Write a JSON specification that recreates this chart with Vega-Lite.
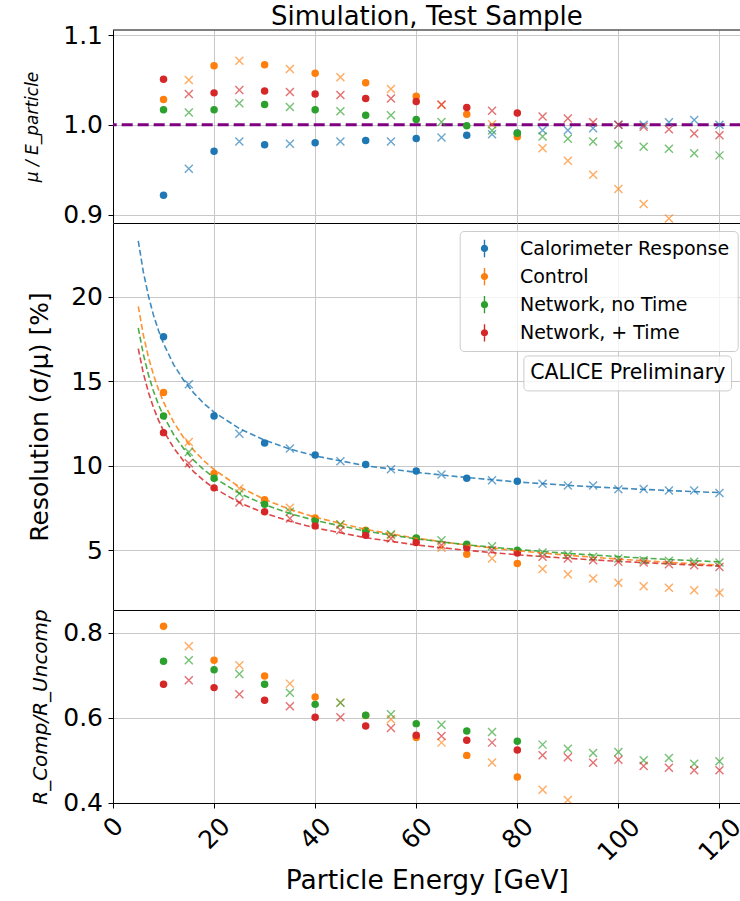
{
  "$schema": "https://vega.github.io/schema/vega-lite/v6.json",
  "padding": {"left": 24, "top": 4, "right": 0, "bottom": 0},
  "background": "white",
  "bounds": "flush",
  "spacing": 0,
  "config": {
    "font": "DejaVu Sans",
    "view": {"stroke": null},
    "axis": {
      "grid": true, "gridColor": "#c8c8c8", "gridWidth": 1,
      "domainColor": "#000", "domainWidth": 1, "tickColor": "#000", "tickSize": 5, "tickWidth": 1,
      "labelFontSize": 25, "labelColor": "#000", "labelFont": "DejaVu Sans",
      "titleFontSize": 26, "titleFontWeight": "normal", "titleColor": "#000", "titleFont": "DejaVu Sans"
    }
  },
  "resolve": {"scale": {"color": "independent"}, "legend": {"color": "independent"}},
  "datasets": {
    "pts": [
      {"p":"ratio","s":"Calorimeter Response","k":"dot","E":10,"v":0.9215},
      {"p":"ratio","s":"Calorimeter Response","k":"cross","E":15,"v":0.951},
      {"p":"ratio","s":"Calorimeter Response","k":"dot","E":20,"v":0.9707},
      {"p":"ratio","s":"Calorimeter Response","k":"cross","E":25,"v":0.9815},
      {"p":"ratio","s":"Calorimeter Response","k":"dot","E":30,"v":0.9778},
      {"p":"ratio","s":"Calorimeter Response","k":"cross","E":35,"v":0.979},
      {"p":"ratio","s":"Calorimeter Response","k":"dot","E":40,"v":0.980},
      {"p":"ratio","s":"Calorimeter Response","k":"cross","E":45,"v":0.9815},
      {"p":"ratio","s":"Calorimeter Response","k":"dot","E":50,"v":0.9826},
      {"p":"ratio","s":"Calorimeter Response","k":"cross","E":55,"v":0.9815},
      {"p":"ratio","s":"Calorimeter Response","k":"dot","E":60,"v":0.9848},
      {"p":"ratio","s":"Calorimeter Response","k":"cross","E":65,"v":0.986},
      {"p":"ratio","s":"Calorimeter Response","k":"dot","E":70,"v":0.9885},
      {"p":"ratio","s":"Calorimeter Response","k":"cross","E":75,"v":0.9896},
      {"p":"ratio","s":"Calorimeter Response","k":"dot","E":80,"v":0.991},
      {"p":"ratio","s":"Calorimeter Response","k":"cross","E":85,"v":0.994},
      {"p":"ratio","s":"Calorimeter Response","k":"cross","E":90,"v":0.994},
      {"p":"ratio","s":"Calorimeter Response","k":"cross","E":95,"v":0.9963},
      {"p":"ratio","s":"Calorimeter Response","k":"cross","E":100,"v":1.0},
      {"p":"ratio","s":"Calorimeter Response","k":"cross","E":105,"v":1.0},
      {"p":"ratio","s":"Calorimeter Response","k":"cross","E":110,"v":1.003},
      {"p":"ratio","s":"Calorimeter Response","k":"cross","E":115,"v":1.0055},
      {"p":"ratio","s":"Calorimeter Response","k":"cross","E":120,"v":1.0},
      {"p":"ratio","s":"Control","k":"dot","E":10,"v":1.0281},
      {"p":"ratio","s":"Control","k":"cross","E":15,"v":1.050},
      {"p":"ratio","s":"Control","k":"dot","E":20,"v":1.0659},
      {"p":"ratio","s":"Control","k":"cross","E":25,"v":1.0715},
      {"p":"ratio","s":"Control","k":"dot","E":30,"v":1.067},
      {"p":"ratio","s":"Control","k":"cross","E":35,"v":1.0622},
      {"p":"ratio","s":"Control","k":"dot","E":40,"v":1.0574},
      {"p":"ratio","s":"Control","k":"cross","E":45,"v":1.053},
      {"p":"ratio","s":"Control","k":"dot","E":50,"v":1.047},
      {"p":"ratio","s":"Control","k":"cross","E":55,"v":1.040},
      {"p":"ratio","s":"Control","k":"dot","E":60,"v":1.0319},
      {"p":"ratio","s":"Control","k":"cross","E":65,"v":1.022},
      {"p":"ratio","s":"Control","k":"dot","E":70,"v":1.0119},
      {"p":"ratio","s":"Control","k":"cross","E":75,"v":1.0007},
      {"p":"ratio","s":"Control","k":"dot","E":80,"v":0.9867},
      {"p":"ratio","s":"Control","k":"cross","E":85,"v":0.974},
      {"p":"ratio","s":"Control","k":"cross","E":90,"v":0.960},
      {"p":"ratio","s":"Control","k":"cross","E":95,"v":0.9444},
      {"p":"ratio","s":"Control","k":"cross","E":100,"v":0.9285},
      {"p":"ratio","s":"Control","k":"cross","E":105,"v":0.9119},
      {"p":"ratio","s":"Control","k":"cross","E":110,"v":0.8956},
      {"p":"ratio","s":"Control","k":"cross","E":115,"v":0.879},
      {"p":"ratio","s":"Control","k":"cross","E":120,"v":0.862},
      {"p":"ratio","s":"Network, no Time","k":"dot","E":10,"v":1.0167},
      {"p":"ratio","s":"Network, no Time","k":"cross","E":15,"v":1.0137},
      {"p":"ratio","s":"Network, no Time","k":"dot","E":20,"v":1.0167},
      {"p":"ratio","s":"Network, no Time","k":"cross","E":25,"v":1.024},
      {"p":"ratio","s":"Network, no Time","k":"dot","E":30,"v":1.0226},
      {"p":"ratio","s":"Network, no Time","k":"cross","E":35,"v":1.020},
      {"p":"ratio","s":"Network, no Time","k":"dot","E":40,"v":1.0167},
      {"p":"ratio","s":"Network, no Time","k":"cross","E":45,"v":1.0152},
      {"p":"ratio","s":"Network, no Time","k":"dot","E":50,"v":1.0107},
      {"p":"ratio","s":"Network, no Time","k":"cross","E":55,"v":1.0107},
      {"p":"ratio","s":"Network, no Time","k":"dot","E":60,"v":1.0059},
      {"p":"ratio","s":"Network, no Time","k":"cross","E":65,"v":1.0033},
      {"p":"ratio","s":"Network, no Time","k":"dot","E":70,"v":0.9989},
      {"p":"ratio","s":"Network, no Time","k":"cross","E":75,"v":0.9937},
      {"p":"ratio","s":"Network, no Time","k":"dot","E":80,"v":0.9907},
      {"p":"ratio","s":"Network, no Time","k":"cross","E":85,"v":0.987},
      {"p":"ratio","s":"Network, no Time","k":"cross","E":90,"v":0.9844},
      {"p":"ratio","s":"Network, no Time","k":"cross","E":95,"v":0.9815},
      {"p":"ratio","s":"Network, no Time","k":"cross","E":100,"v":0.9778},
      {"p":"ratio","s":"Network, no Time","k":"cross","E":105,"v":0.9756},
      {"p":"ratio","s":"Network, no Time","k":"cross","E":110,"v":0.9733},
      {"p":"ratio","s":"Network, no Time","k":"cross","E":115,"v":0.9685},
      {"p":"ratio","s":"Network, no Time","k":"cross","E":120,"v":0.966},
      {"p":"ratio","s":"Network, + Time","k":"dot","E":10,"v":1.0507},
      {"p":"ratio","s":"Network, + Time","k":"cross","E":15,"v":1.0344},
      {"p":"ratio","s":"Network, + Time","k":"dot","E":20,"v":1.0356},
      {"p":"ratio","s":"Network, + Time","k":"cross","E":25,"v":1.0389},
      {"p":"ratio","s":"Network, + Time","k":"dot","E":30,"v":1.0378},
      {"p":"ratio","s":"Network, + Time","k":"cross","E":35,"v":1.0367},
      {"p":"ratio","s":"Network, + Time","k":"dot","E":40,"v":1.0344},
      {"p":"ratio","s":"Network, + Time","k":"cross","E":45,"v":1.0333},
      {"p":"ratio","s":"Network, + Time","k":"dot","E":50,"v":1.0293},
      {"p":"ratio","s":"Network, + Time","k":"cross","E":55,"v":1.0293},
      {"p":"ratio","s":"Network, + Time","k":"dot","E":60,"v":1.0259},
      {"p":"ratio","s":"Network, + Time","k":"cross","E":65,"v":1.0226},
      {"p":"ratio","s":"Network, + Time","k":"dot","E":70,"v":1.0193},
      {"p":"ratio","s":"Network, + Time","k":"cross","E":75,"v":1.0156},
      {"p":"ratio","s":"Network, + Time","k":"dot","E":80,"v":1.0133},
      {"p":"ratio","s":"Network, + Time","k":"cross","E":85,"v":1.0093},
      {"p":"ratio","s":"Network, + Time","k":"cross","E":90,"v":1.007},
      {"p":"ratio","s":"Network, + Time","k":"cross","E":95,"v":1.003},
      {"p":"ratio","s":"Network, + Time","k":"cross","E":100,"v":1.0},
      {"p":"ratio","s":"Network, + Time","k":"cross","E":105,"v":0.9978},
      {"p":"ratio","s":"Network, + Time","k":"cross","E":110,"v":0.9952},
      {"p":"ratio","s":"Network, + Time","k":"cross","E":115,"v":0.9904},
      {"p":"ratio","s":"Network, + Time","k":"cross","E":120,"v":0.9883},

      {"p":"res","s":"Calorimeter Response","k":"dot","E":10,"v":17.63},
      {"p":"res","s":"Calorimeter Response","k":"cross","E":15,"v":14.81},
      {"p":"res","s":"Calorimeter Response","k":"dot","E":20,"v":12.94},
      {"p":"res","s":"Calorimeter Response","k":"cross","E":25,"v":11.89},
      {"p":"res","s":"Calorimeter Response","k":"dot","E":30,"v":11.34},
      {"p":"res","s":"Calorimeter Response","k":"cross","E":35,"v":11.01},
      {"p":"res","s":"Calorimeter Response","k":"dot","E":40,"v":10.63},
      {"p":"res","s":"Calorimeter Response","k":"cross","E":45,"v":10.26},
      {"p":"res","s":"Calorimeter Response","k":"dot","E":50,"v":10.06},
      {"p":"res","s":"Calorimeter Response","k":"cross","E":55,"v":9.78},
      {"p":"res","s":"Calorimeter Response","k":"dot","E":60,"v":9.68},
      {"p":"res","s":"Calorimeter Response","k":"cross","E":65,"v":9.47},
      {"p":"res","s":"Calorimeter Response","k":"dot","E":70,"v":9.25},
      {"p":"res","s":"Calorimeter Response","k":"cross","E":75,"v":9.13},
      {"p":"res","s":"Calorimeter Response","k":"dot","E":80,"v":9.07},
      {"p":"res","s":"Calorimeter Response","k":"cross","E":85,"v":8.92},
      {"p":"res","s":"Calorimeter Response","k":"cross","E":90,"v":8.82},
      {"p":"res","s":"Calorimeter Response","k":"cross","E":95,"v":8.82},
      {"p":"res","s":"Calorimeter Response","k":"cross","E":100,"v":8.60},
      {"p":"res","s":"Calorimeter Response","k":"cross","E":105,"v":8.62},
      {"p":"res","s":"Calorimeter Response","k":"cross","E":110,"v":8.52},
      {"p":"res","s":"Calorimeter Response","k":"cross","E":115,"v":8.52},
      {"p":"res","s":"Calorimeter Response","k":"cross","E":120,"v":8.38},
      {"p":"res","s":"Control","k":"dot","E":10,"v":14.32},
      {"p":"res","s":"Control","k":"cross","E":15,"v":11.40},
      {"p":"res","s":"Control","k":"dot","E":20,"v":9.53},
      {"p":"res","s":"Control","k":"cross","E":25,"v":8.64},
      {"p":"res","s":"Control","k":"dot","E":30,"v":7.97},
      {"p":"res","s":"Control","k":"cross","E":35,"v":7.51},
      {"p":"res","s":"Control","k":"dot","E":40,"v":6.90},
      {"p":"res","s":"Control","k":"cross","E":45,"v":6.51},
      {"p":"res","s":"Control","k":"dot","E":50,"v":6.17},
      {"p":"res","s":"Control","k":"cross","E":55,"v":5.88},
      {"p":"res","s":"Control","k":"dot","E":60,"v":5.68},
      {"p":"res","s":"Control","k":"cross","E":65,"v":5.13},
      {"p":"res","s":"Control","k":"dot","E":70,"v":4.75},
      {"p":"res","s":"Control","k":"cross","E":75,"v":4.50},
      {"p":"res","s":"Control","k":"dot","E":80,"v":4.20},
      {"p":"res","s":"Control","k":"cross","E":85,"v":3.87},
      {"p":"res","s":"Control","k":"cross","E":90,"v":3.57},
      {"p":"res","s":"Control","k":"cross","E":95,"v":3.31},
      {"p":"res","s":"Control","k":"cross","E":100,"v":3.06},
      {"p":"res","s":"Control","k":"cross","E":105,"v":2.86},
      {"p":"res","s":"Control","k":"cross","E":110,"v":2.76},
      {"p":"res","s":"Control","k":"cross","E":115,"v":2.62},
      {"p":"res","s":"Control","k":"cross","E":120,"v":2.47},
      {"p":"res","s":"Network, no Time","k":"dot","E":10,"v":12.94},
      {"p":"res","s":"Network, no Time","k":"cross","E":15,"v":10.81},
      {"p":"res","s":"Network, no Time","k":"dot","E":20,"v":9.25},
      {"p":"res","s":"Network, no Time","k":"cross","E":25,"v":8.34},
      {"p":"res","s":"Network, no Time","k":"dot","E":30,"v":7.71},
      {"p":"res","s":"Network, no Time","k":"cross","E":35,"v":7.26},
      {"p":"res","s":"Network, no Time","k":"dot","E":40,"v":6.73},
      {"p":"res","s":"Network, no Time","k":"cross","E":45,"v":6.51},
      {"p":"res","s":"Network, no Time","k":"dot","E":50,"v":6.13},
      {"p":"res","s":"Network, no Time","k":"cross","E":55,"v":5.94},
      {"p":"res","s":"Network, no Time","k":"dot","E":60,"v":5.72},
      {"p":"res","s":"Network, no Time","k":"cross","E":65,"v":5.58},
      {"p":"res","s":"Network, no Time","k":"dot","E":70,"v":5.35},
      {"p":"res","s":"Network, no Time","k":"cross","E":75,"v":5.23},
      {"p":"res","s":"Network, no Time","k":"dot","E":80,"v":4.99},
      {"p":"res","s":"Network, no Time","k":"cross","E":85,"v":4.85},
      {"p":"res","s":"Network, no Time","k":"cross","E":90,"v":4.73},
      {"p":"res","s":"Network, no Time","k":"cross","E":95,"v":4.60},
      {"p":"res","s":"Network, no Time","k":"cross","E":100,"v":4.50},
      {"p":"res","s":"Network, no Time","k":"cross","E":105,"v":4.40},
      {"p":"res","s":"Network, no Time","k":"cross","E":110,"v":4.36},
      {"p":"res","s":"Network, no Time","k":"cross","E":115,"v":4.30},
      {"p":"res","s":"Network, no Time","k":"cross","E":120,"v":4.26},
      {"p":"res","s":"Network, + Time","k":"dot","E":10,"v":11.95},
      {"p":"res","s":"Network, + Time","k":"cross","E":15,"v":10.14},
      {"p":"res","s":"Network, + Time","k":"dot","E":20,"v":8.68},
      {"p":"res","s":"Network, + Time","k":"cross","E":25,"v":7.81},
      {"p":"res","s":"Network, + Time","k":"dot","E":30,"v":7.26},
      {"p":"res","s":"Network, + Time","k":"cross","E":35,"v":6.86},
      {"p":"res","s":"Network, + Time","k":"dot","E":40,"v":6.43},
      {"p":"res","s":"Network, + Time","k":"cross","E":45,"v":6.17},
      {"p":"res","s":"Network, + Time","k":"dot","E":50,"v":5.88},
      {"p":"res","s":"Network, + Time","k":"cross","E":55,"v":5.68},
      {"p":"res","s":"Network, + Time","k":"dot","E":60,"v":5.44},
      {"p":"res","s":"Network, + Time","k":"cross","E":65,"v":5.29},
      {"p":"res","s":"Network, + Time","k":"dot","E":70,"v":5.15},
      {"p":"res","s":"Network, + Time","k":"cross","E":75,"v":4.99},
      {"p":"res","s":"Network, + Time","k":"dot","E":80,"v":4.83},
      {"p":"res","s":"Network, + Time","k":"cross","E":85,"v":4.60},
      {"p":"res","s":"Network, + Time","k":"cross","E":90,"v":4.50},
      {"p":"res","s":"Network, + Time","k":"cross","E":95,"v":4.40},
      {"p":"res","s":"Network, + Time","k":"cross","E":100,"v":4.30},
      {"p":"res","s":"Network, + Time","k":"cross","E":105,"v":4.26},
      {"p":"res","s":"Network, + Time","k":"cross","E":110,"v":4.16},
      {"p":"res","s":"Network, + Time","k":"cross","E":115,"v":4.10},
      {"p":"res","s":"Network, + Time","k":"cross","E":120,"v":4.00},

      {"p":"rel","s":"Control","k":"dot","E":10,"v":0.8157},
      {"p":"rel","s":"Control","k":"cross","E":15,"v":0.7686},
      {"p":"rel","s":"Control","k":"dot","E":20,"v":0.7357},
      {"p":"rel","s":"Control","k":"cross","E":25,"v":0.7239},
      {"p":"rel","s":"Control","k":"dot","E":30,"v":0.6988},
      {"p":"rel","s":"Control","k":"cross","E":35,"v":0.6808},
      {"p":"rel","s":"Control","k":"dot","E":40,"v":0.6494},
      {"p":"rel","s":"Control","k":"cross","E":45,"v":0.6361},
      {"p":"rel","s":"Control","k":"dot","E":50,"v":0.606},
      {"p":"rel","s":"Control","k":"cross","E":55,"v":0.597},
      {"p":"rel","s":"Control","k":"dot","E":60,"v":0.554},
      {"p":"rel","s":"Control","k":"cross","E":65,"v":0.542},
      {"p":"rel","s":"Control","k":"dot","E":70,"v":0.512},
      {"p":"rel","s":"Control","k":"cross","E":75,"v":0.495},
      {"p":"rel","s":"Control","k":"dot","E":80,"v":0.461},
      {"p":"rel","s":"Control","k":"cross","E":85,"v":0.431},
      {"p":"rel","s":"Control","k":"cross","E":90,"v":0.407},
      {"p":"rel","s":"Network, no Time","k":"dot","E":10,"v":0.7333},
      {"p":"rel","s":"Network, no Time","k":"cross","E":15,"v":0.7357},
      {"p":"rel","s":"Network, no Time","k":"dot","E":20,"v":0.7137},
      {"p":"rel","s":"Network, no Time","k":"cross","E":25,"v":0.7035},
      {"p":"rel","s":"Network, no Time","k":"dot","E":30,"v":0.6792},
      {"p":"rel","s":"Network, no Time","k":"cross","E":35,"v":0.6596},
      {"p":"rel","s":"Network, no Time","k":"dot","E":40,"v":0.632},
      {"p":"rel","s":"Network, no Time","k":"cross","E":45,"v":0.636},
      {"p":"rel","s":"Network, no Time","k":"dot","E":50,"v":0.6063},
      {"p":"rel","s":"Network, no Time","k":"cross","E":55,"v":0.609},
      {"p":"rel","s":"Network, no Time","k":"dot","E":60,"v":0.5867},
      {"p":"rel","s":"Network, no Time","k":"cross","E":65,"v":0.5843},
      {"p":"rel","s":"Network, no Time","k":"dot","E":70,"v":0.5694},
      {"p":"rel","s":"Network, no Time","k":"cross","E":75,"v":0.567},
      {"p":"rel","s":"Network, no Time","k":"dot","E":80,"v":0.5451},
      {"p":"rel","s":"Network, no Time","k":"cross","E":85,"v":0.5373},
      {"p":"rel","s":"Network, no Time","k":"cross","E":90,"v":0.5278},
      {"p":"rel","s":"Network, no Time","k":"cross","E":95,"v":0.5176},
      {"p":"rel","s":"Network, no Time","k":"cross","E":100,"v":0.520},
      {"p":"rel","s":"Network, no Time","k":"cross","E":105,"v":0.5004},
      {"p":"rel","s":"Network, no Time","k":"cross","E":110,"v":0.5059},
      {"p":"rel","s":"Network, no Time","k":"cross","E":115,"v":0.4925},
      {"p":"rel","s":"Network, no Time","k":"cross","E":120,"v":0.498},
      {"p":"rel","s":"Network, + Time","k":"dot","E":10,"v":0.6792},
      {"p":"rel","s":"Network, + Time","k":"cross","E":15,"v":0.6886},
      {"p":"rel","s":"Network, + Time","k":"dot","E":20,"v":0.6714},
      {"p":"rel","s":"Network, + Time","k":"cross","E":25,"v":0.6557},
      {"p":"rel","s":"Network, + Time","k":"dot","E":30,"v":0.6416},
      {"p":"rel","s":"Network, + Time","k":"cross","E":35,"v":0.6275},
      {"p":"rel","s":"Network, + Time","k":"dot","E":40,"v":0.6016},
      {"p":"rel","s":"Network, + Time","k":"cross","E":45,"v":0.6016},
      {"p":"rel","s":"Network, + Time","k":"dot","E":50,"v":0.5812},
      {"p":"rel","s":"Network, + Time","k":"cross","E":55,"v":0.5765},
      {"p":"rel","s":"Network, + Time","k":"dot","E":60,"v":0.5592},
      {"p":"rel","s":"Network, + Time","k":"cross","E":65,"v":0.5576},
      {"p":"rel","s":"Network, + Time","k":"dot","E":70,"v":0.5475},
      {"p":"rel","s":"Network, + Time","k":"cross","E":75,"v":0.542},
      {"p":"rel","s":"Network, + Time","k":"dot","E":80,"v":0.5247},
      {"p":"rel","s":"Network, + Time","k":"cross","E":85,"v":0.5122},
      {"p":"rel","s":"Network, + Time","k":"cross","E":90,"v":0.5075},
      {"p":"rel","s":"Network, + Time","k":"cross","E":95,"v":0.4949},
      {"p":"rel","s":"Network, + Time","k":"cross","E":100,"v":0.502},
      {"p":"rel","s":"Network, + Time","k":"cross","E":105,"v":0.487},
      {"p":"rel","s":"Network, + Time","k":"cross","E":110,"v":0.483},
      {"p":"rel","s":"Network, + Time","k":"cross","E":115,"v":0.477},
      {"p":"rel","s":"Network, + Time","k":"cross","E":120,"v":0.477}
    ],
    "fits": [
      {"s":"Calorimeter Response","E":5,"v":23.30},{"s":"Calorimeter Response","E":6,"v":21.47},{"s":"Calorimeter Response","E":7,"v":20.05},{"s":"Calorimeter Response","E":8,"v":18.92},{"s":"Calorimeter Response","E":9,"v":18.00},{"s":"Calorimeter Response","E":10,"v":17.22},{"s":"Calorimeter Response","E":12,"v":15.98},{"s":"Calorimeter Response","E":14,"v":15.04},{"s":"Calorimeter Response","E":16,"v":14.29},{"s":"Calorimeter Response","E":18,"v":13.67},{"s":"Calorimeter Response","E":20,"v":13.16},{"s":"Calorimeter Response","E":25,"v":12.19},{"s":"Calorimeter Response","E":30,"v":11.50},{"s":"Calorimeter Response","E":35,"v":10.98},{"s":"Calorimeter Response","E":40,"v":10.57},{"s":"Calorimeter Response","E":50,"v":9.99},{"s":"Calorimeter Response","E":60,"v":9.60},{"s":"Calorimeter Response","E":70,"v":9.29},{"s":"Calorimeter Response","E":80,"v":9.03},{"s":"Calorimeter Response","E":90,"v":8.83},{"s":"Calorimeter Response","E":100,"v":8.66},{"s":"Calorimeter Response","E":110,"v":8.52},{"s":"Calorimeter Response","E":120,"v":8.40},
      {"s":"Control","E":5,"v":19.43},{"s":"Control","E":6,"v":17.74},{"s":"Control","E":7,"v":16.43},{"s":"Control","E":8,"v":15.38},{"s":"Control","E":9,"v":14.50},{"s":"Control","E":10,"v":13.76},{"s":"Control","E":12,"v":12.57},{"s":"Control","E":14,"v":11.64},{"s":"Control","E":16,"v":10.90},{"s":"Control","E":18,"v":10.28},{"s":"Control","E":20,"v":9.76},{"s":"Control","E":25,"v":8.74},{"s":"Control","E":30,"v":7.99},{"s":"Control","E":35,"v":7.41},{"s":"Control","E":40,"v":6.94},{"s":"Control","E":50,"v":6.22},{"s":"Control","E":60,"v":5.70},{"s":"Control","E":70,"v":5.29},{"s":"Control","E":80,"v":4.96},{"s":"Control","E":90,"v":4.69},{"s":"Control","E":100,"v":4.46},{"s":"Control","E":110,"v":4.27},{"s":"Control","E":120,"v":4.10},
      {"s":"Network, no Time","E":5,"v":18.15},{"s":"Network, no Time","E":6,"v":16.59},{"s":"Network, no Time","E":7,"v":15.39},{"s":"Network, no Time","E":8,"v":14.41},{"s":"Network, no Time","E":9,"v":13.61},{"s":"Network, no Time","E":10,"v":12.93},{"s":"Network, no Time","E":12,"v":11.84},{"s":"Network, no Time","E":14,"v":11.00},{"s":"Network, no Time","E":16,"v":10.31},{"s":"Network, no Time","E":18,"v":9.75},{"s":"Network, no Time","E":20,"v":9.28},{"s":"Network, no Time","E":25,"v":8.36},{"s":"Network, no Time","E":30,"v":7.69},{"s":"Network, no Time","E":35,"v":7.16},{"s":"Network, no Time","E":40,"v":6.75},{"s":"Network, no Time","E":50,"v":6.12},{"s":"Network, no Time","E":60,"v":5.66},{"s":"Network, no Time","E":70,"v":5.31},{"s":"Network, no Time","E":80,"v":5.03},{"s":"Network, no Time","E":90,"v":4.80},{"s":"Network, no Time","E":100,"v":4.61},{"s":"Network, no Time","E":110,"v":4.44},{"s":"Network, no Time","E":120,"v":4.30},
      {"s":"Network, + Time","E":5,"v":16.92},{"s":"Network, + Time","E":6,"v":15.47},{"s":"Network, + Time","E":7,"v":14.35},{"s":"Network, + Time","E":8,"v":13.44},{"s":"Network, + Time","E":9,"v":12.69},{"s":"Network, + Time","E":10,"v":12.06},{"s":"Network, + Time","E":12,"v":11.05},{"s":"Network, + Time","E":14,"v":10.26},{"s":"Network, + Time","E":16,"v":9.63},{"s":"Network, + Time","E":18,"v":9.10},{"s":"Network, + Time","E":20,"v":8.66},{"s":"Network, + Time","E":25,"v":7.81},{"s":"Network, + Time","E":30,"v":7.18},{"s":"Network, + Time","E":35,"v":6.70},{"s":"Network, + Time","E":40,"v":6.31},{"s":"Network, + Time","E":50,"v":5.73},{"s":"Network, + Time","E":60,"v":5.30},{"s":"Network, + Time","E":70,"v":4.98},{"s":"Network, + Time","E":80,"v":4.72},{"s":"Network, + Time","E":90,"v":4.51},{"s":"Network, + Time","E":100,"v":4.33},{"s":"Network, + Time","E":110,"v":4.18},{"s":"Network, + Time","E":120,"v":4.05}
    ]
  },
  "vconcat": [
    {
      "width": 627.7,
      "height": 193,
      "title": {"text": "Simulation, Test Sample", "fontSize": 26, "fontWeight": "normal", "font": "DejaVu Sans", "color": "#000", "anchor": "middle", "baseline": "alphabetic", "offset": -28},
      "layer": [
        {
          "data": {"values": [{}]},
          "mark": {"type": "rule", "color": "#800080", "strokeWidth": 3, "strokeDash": [11, 5]},
          "encoding": {"y": {"datum": 1, "type": "quantitative"}}
        },
        {
          "data": {"values": [{}]},
          "mark": {"type": "rule", "color": "#000", "strokeWidth": 1},
          "encoding": {"y": {"datum": 1.1056, "type": "quantitative"}}
        },
        {
          "data": {"name": "pts"},
          "transform": [{"filter": "datum.p == 'ratio' && datum.k == 'cross'"}],
          "mark": {"type": "point", "shape": "M-1,-1L1,1M-1,1L1,-1", "filled": false, "size": 64, "strokeWidth": 1.4, "opacity": 0.65, "clip": true},
          "encoding": {
            "x": {"field": "E", "type": "quantitative", "scale": {"domain": [0, 124.2], "nice": false, "zero": false},
                  "axis": {"values": [0, 20, 40, 60, 80, 100, 120], "labels": false, "ticks": false, "title": null, "domain": true}},
            "y": {"field": "v", "type": "quantitative", "scale": {"domain": [0.8907, 1.1056], "nice": false, "zero": false},
                  "axis": {"values": [0.9, 1.0, 1.1], "format": ".1f", "title": "μ / E_particle", "titleFontSize": 17, "titleFontStyle": "italic", "titlePadding": 21, "minExtent": 50, "maxExtent": 50, "labelPadding": 5.5}},
            "color": {"field": "s", "type": "nominal", "legend": null,
                      "scale": {"domain": ["Calorimeter Response", "Control", "Network, no Time", "Network, + Time"], "range": ["#1f77b4", "#ff7f0e", "#2ca02c", "#d62728"]}}
          }
        },
        {
          "data": {"name": "pts"},
          "transform": [{"filter": "datum.p == 'ratio' && datum.k == 'dot'"}],
          "mark": {"type": "circle", "size": 56, "opacity": 1, "clip": true},
          "encoding": {
            "x": {"field": "E", "type": "quantitative"},
            "y": {"field": "v", "type": "quantitative"},
            "color": {"field": "s", "type": "nominal", "legend": null,
                      "scale": {"domain": ["Calorimeter Response", "Control", "Network, no Time", "Network, + Time"], "range": ["#1f77b4", "#ff7f0e", "#2ca02c", "#d62728"]}}
          }
        }
      ]
    },
    {
      "width": 627.7,
      "height": 387,
      "layer": [
        {
          "data": {"name": "pts"},
          "transform": [{"filter": "datum.p == 'res' && datum.k == 'dot'"}],
          "mark": {"type": "circle", "size": 56, "opacity": 1, "clip": true},
          "encoding": {
            "x": {"field": "E", "type": "quantitative", "scale": {"domain": [0, 124.2], "nice": false, "zero": false},
                  "axis": {"values": [0, 20, 40, 60, 80, 100, 120], "labels": false, "ticks": false, "title": null, "domain": true}},
            "y": {"field": "v", "type": "quantitative", "scale": {"domain": [1.45, 24.36], "nice": false, "zero": false},
                  "axis": {"values": [5, 10, 15, 20], "title": "Resolution (σ/μ) [%]", "titleFontSize": 25, "titlePadding": 10, "minExtent": 50, "maxExtent": 50, "labelPadding": 5.5}},
            "color": {"field": "s", "type": "nominal",
                      "scale": {"domain": ["Calorimeter Response", "Control", "Network, no Time", "Network, + Time"], "range": ["#1f77b4", "#ff7f0e", "#2ca02c", "#d62728"]},
                      "legend": {"title": null, "orient": "none", "legendX": 346.7, "legendY": 8,
                                 "symbolType": "M-0.08,-1H0.08V1H-0.08Z M0.42,0A0.42,0.42,0,1,1,-0.42,0A0.42,0.42,0,1,1,0.42,0Z",
                                 "symbolSize": 300, "symbolOffset": 7.3, "labelOffset": 26, "labelFontSize": 19, "labelFont": "DejaVu Sans", "labelColor": "#000", "labelLimit": 400,
                                 "padding": 8, "rowPadding": 8.1, "fillColor": "rgba(255,255,255,0.8)", "strokeColor": "#cccccc", "cornerRadius": 4, "symbolStrokeWidth": 0}}
          }
        },
        {
          "data": {"name": "fits"},
          "mark": {"type": "line", "strokeDash": [6, 3], "strokeWidth": 1.6, "opacity": 0.85, "clip": true},
          "encoding": {
            "x": {"field": "E", "type": "quantitative"},
            "y": {"field": "v", "type": "quantitative"},
            "color": {"field": "s", "type": "nominal", "legend": null,
                      "scale": {"domain": ["Calorimeter Response", "Control", "Network, no Time", "Network, + Time"], "range": ["#1f77b4", "#ff7f0e", "#2ca02c", "#d62728"]}}
          }
        },
        {
          "data": {"name": "pts"},
          "transform": [{"filter": "datum.p == 'res' && datum.k == 'cross'"}],
          "mark": {"type": "point", "shape": "M-1,-1L1,1M-1,1L1,-1", "filled": false, "size": 64, "strokeWidth": 1.4, "opacity": 0.65, "clip": true},
          "encoding": {
            "x": {"field": "E", "type": "quantitative"},
            "y": {"field": "v", "type": "quantitative"},
            "color": {"field": "s", "type": "nominal", "legend": null,
                      "scale": {"domain": ["Calorimeter Response", "Control", "Network, no Time", "Network, + Time"], "range": ["#1f77b4", "#ff7f0e", "#2ca02c", "#d62728"]}}
          }
        },
        {
          "data": {"values": [{"label": "CALICE Preliminary"}]},
          "mark": {"type": "rect", "fill": "white", "fillOpacity": 0.8, "stroke": "#cccccc", "strokeWidth": 1, "cornerRadius": 4},
          "encoding": {
            "x": {"datum": 81.3, "type": "quantitative"},
            "x2": {"datum": 122.4},
            "y": {"datum": 16.49, "type": "quantitative"},
            "y2": {"datum": 14.42}
          }
        },
        {
          "data": {"values": [{"label": "CALICE Preliminary"}]},
          "mark": {"type": "text", "fontSize": 20.5, "font": "DejaVu Sans", "color": "#000", "align": "center", "baseline": "middle"},
          "encoding": {
            "x": {"datum": 101.85, "type": "quantitative"},
            "y": {"datum": 15.46, "type": "quantitative"},
            "text": {"field": "label"}
          }
        }
      ]
    },
    {
      "width": 627.7,
      "height": 193,
      "layer": [
        {
          "data": {"name": "pts"},
          "transform": [{"filter": "datum.p == 'rel' && datum.k == 'cross'"}],
          "mark": {"type": "point", "shape": "M-1,-1L1,1M-1,1L1,-1", "filled": false, "size": 64, "strokeWidth": 1.4, "opacity": 0.65, "clip": true},
          "encoding": {
            "x": {"field": "E", "type": "quantitative", "scale": {"domain": [0, 124.2], "nice": false, "zero": false},
                  "axis": {"values": [0, 20, 40, 60, 80, 100, 120], "format": "d", "labelAngle": -45, "labelAlign": "center", "labelBaseline": "middle",
                           "labelPadding": {"condition": [{"test": "datum.value >= 100", "value": 31.5}, {"test": "datum.value < 10", "value": 19}], "value": 25},
                           "labelFlush": false, "labelOverlap": false, "title": "Particle Energy [GeV]", "titleFontSize": 26.5, "titlePadding": 2, "domain": true}},
            "y": {"field": "v", "type": "quantitative", "scale": {"domain": [0.4, 0.854], "nice": false, "zero": false},
                  "axis": {"values": [0.4, 0.6, 0.8], "format": ".1f", "title": "R_Comp/R_Uncomp", "titleFontSize": 20, "titleFontStyle": "italic", "titlePadding": 12, "minExtent": 50, "maxExtent": 50, "labelPadding": 5.5}},
            "color": {"field": "s", "type": "nominal", "legend": null,
                      "scale": {"domain": ["Calorimeter Response", "Control", "Network, no Time", "Network, + Time"], "range": ["#1f77b4", "#ff7f0e", "#2ca02c", "#d62728"]}}
          }
        },
        {
          "data": {"name": "pts"},
          "transform": [{"filter": "datum.p == 'rel' && datum.k == 'dot'"}],
          "mark": {"type": "circle", "size": 56, "opacity": 1, "clip": true},
          "encoding": {
            "x": {"field": "E", "type": "quantitative"},
            "y": {"field": "v", "type": "quantitative"},
            "color": {"field": "s", "type": "nominal", "legend": null,
                      "scale": {"domain": ["Calorimeter Response", "Control", "Network, no Time", "Network, + Time"], "range": ["#1f77b4", "#ff7f0e", "#2ca02c", "#d62728"]}}
          }
        }
      ]
    }
  ]
}
